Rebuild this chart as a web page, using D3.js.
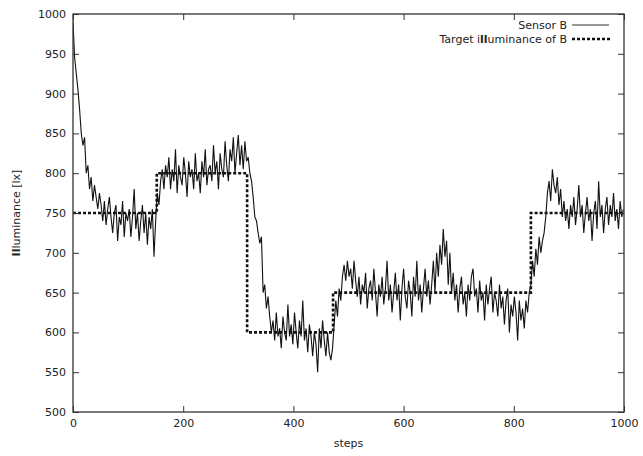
<!DOCTYPE html>
<html><head><meta charset="utf-8">
<script src="https://cdn.jsdelivr.net/npm/d3@7"></script>
<style>body{margin:0;background:#fff}svg{display:block}text{font-family:"DejaVu Sans",sans-serif;fill:#222}</style>
</head><body><svg id="c" width="643" height="456"></svg>
<script>
// sampling interval of the sensor series (steps)
const sampleEvery = 3;
// Sensor B readings, one every 3 steps from step 0 to 999
const sensorB = [
990,945,925,905,880,850,835,845,800,810,780,795,765,785,770,755,775,
760,740,765,735,755,770,745,725,750,760,715,745,735,765,720,750,740,755,720,745,780,730,750,715,740,760,725,750,710,745,730,755,695,740,
775,760,790,805,780,810,
795,820,780,805,790,830,775,810,795,785,820,800,770,815,795,805,780,825,790,800,775,815,795,830,785,805,810,790,835,800,815,780,825,805,795,840,810,790,830,815,845,800,825,848,810,835,805,840,815,
820,800,790,770,745,740,725,712,720,650,660,630,645,620,
600,615,590,625,595,605,580,620,600,590,635,595,610,585,625,600,580,615,595,640,590,605,575,610,595,570,600,585,550,605,580,615,590,570,600,575,565,
580,610,640,620,655,640,670,
685,665,690,670,680,655,690,665,645,670,635,660,650,675,630,655,665,640,680,650,620,660,645,670,635,655,690,640,660,625,650,675,640,660,615,655,680,645,630,665,650,620,670,645,690,640,660,625,655,680,645,665,635,660,690,650,700,670,710,685,730,695,715,660,700,650,675,640,660,625,655,670,635,650,620,660,640,670,680,645,655,625,665,640,650,615,660,635,655,670,625,650,640,620,660,630,645,610,640,655,600,635,620,645,625,590,640,615,630,605,640,625,650,
660,690,670,705,685,720,700,715,725,745,775,790,765,805,
785,775,795,760,780,745,765,740,755,730,760,745,770,735,755,785,745,760,725,750,770,740,755,715,750,765,730,790,745,760,725,755,770,735,760,745,775,740,755,730,765,745,755
];
// Target illuminance of B: set-point changes (step, lux)
const targetSteps = [0,152,316,472,831,1000];
const targetValues = [750,800,600,650,750,750];
const xTicks = [0,200,400,600,800,1000];
const yTicks = [500,550,600,650,700,750,800,850,900,950,1000];
const seriesNames = ["Sensor B","Target illuminance of B"];

(function(){
const svg = d3.select("#c");
const L=73, R=624, T=14, B=412;
const x = d3.scaleLinear().domain([0,1000]).range([L,R]);
const y = d3.scaleLinear().domain([500,1000]).range([B,T]);
const tickFont = "11px";
const fmt = d3.format("d");

const sensorData = sensorB.map((v,i)=>({s:i*sampleEvery,v}));
const targetData = targetSteps.map((s,i)=>({s,v:targetValues[i]}));

svg.append("clipPath").attr("id","pc").append("rect")
  .attr("x",L).attr("y",T).attr("width",R-L).attr("height",B-T);

const g = svg.append("g").attr("clip-path","url(#pc)");
g.append("path").datum(sensorData)
  .attr("d",d3.line().x(d=>x(d.s)).y(d=>y(d.v)))
  .attr("fill","none").attr("stroke","#111").attr("stroke-width",1.1);
g.append("path").datum(targetData)
  .attr("d",d3.line().curve(d3.curveStepAfter).x(d=>x(d.s)).y(d=>y(d.v)))
  .attr("fill","none").attr("stroke","#111").attr("stroke-width",2.6).attr("stroke-dasharray","3,2");

const ax = (gen, tr) => svg.append("g").attr("transform",tr).call(gen)
  .call(s=>s.select(".domain").remove())
  .call(s=>s.selectAll("line").attr("stroke","#333"));
const axB = ax(d3.axisBottom(x).tickValues(xTicks).tickFormat(fmt).tickSize(-6).tickPadding(7), `translate(0,${B})`);
axB.selectAll("text").attr("font-size",tickFont).attr("fill","#222").attr("font-family","DejaVu Sans");
ax(d3.axisTop(x).tickValues(xTicks).tickSize(-6).tickFormat(""), `translate(0,${T})`);
const axL = ax(d3.axisLeft(y).tickValues(yTicks).tickFormat(fmt).tickSize(-6).tickPadding(7), `translate(${L},0)`);
axL.selectAll("text").attr("font-size",tickFont).attr("fill","#222").attr("font-family","DejaVu Sans");
ax(d3.axisRight(y).tickValues(yTicks).tickSize(-6).tickFormat(""), `translate(${R},0)`);

svg.append("rect").attr("x",L).attr("y",T).attr("width",R-L).attr("height",B-T)
  .attr("fill","none").attr("stroke","#333").attr("stroke-width",1.3);

svg.append("text").attr("x",(L+R)/2).attr("y",447).attr("text-anchor","middle")
  .attr("font-size","11px").text("steps");
const yl = svg.append("text").attr("transform",`translate(20,${(T+B)/2}) rotate(-90)`)
  .attr("text-anchor","middle").attr("font-size","11px");
yl.append("tspan").attr("font-weight","bold").text("Il");
yl.append("tspan").text("luminance [lx]");

const lg = svg.append("g");
lg.append("text").attr("x",567).attr("y",29).attr("text-anchor","end").attr("font-size","11px").text(seriesNames[0]);
lg.append("line").attr("x1",572).attr("x2",609).attr("y1",25).attr("y2",25).attr("stroke","#333").attr("stroke-width",1);
const t2 = lg.append("text").attr("x",567).attr("y",43).attr("text-anchor","end").attr("font-size","11px");
t2.append("tspan").text("Target i");
t2.append("tspan").attr("font-weight","bold").text("ll");
t2.append("tspan").text("uminance of B");
lg.append("line").attr("x1",572).attr("x2",610).attr("y1",39).attr("y2",39).attr("stroke","#111").attr("stroke-width",2.6).attr("stroke-dasharray","3,2");
})();
</script></body></html>
